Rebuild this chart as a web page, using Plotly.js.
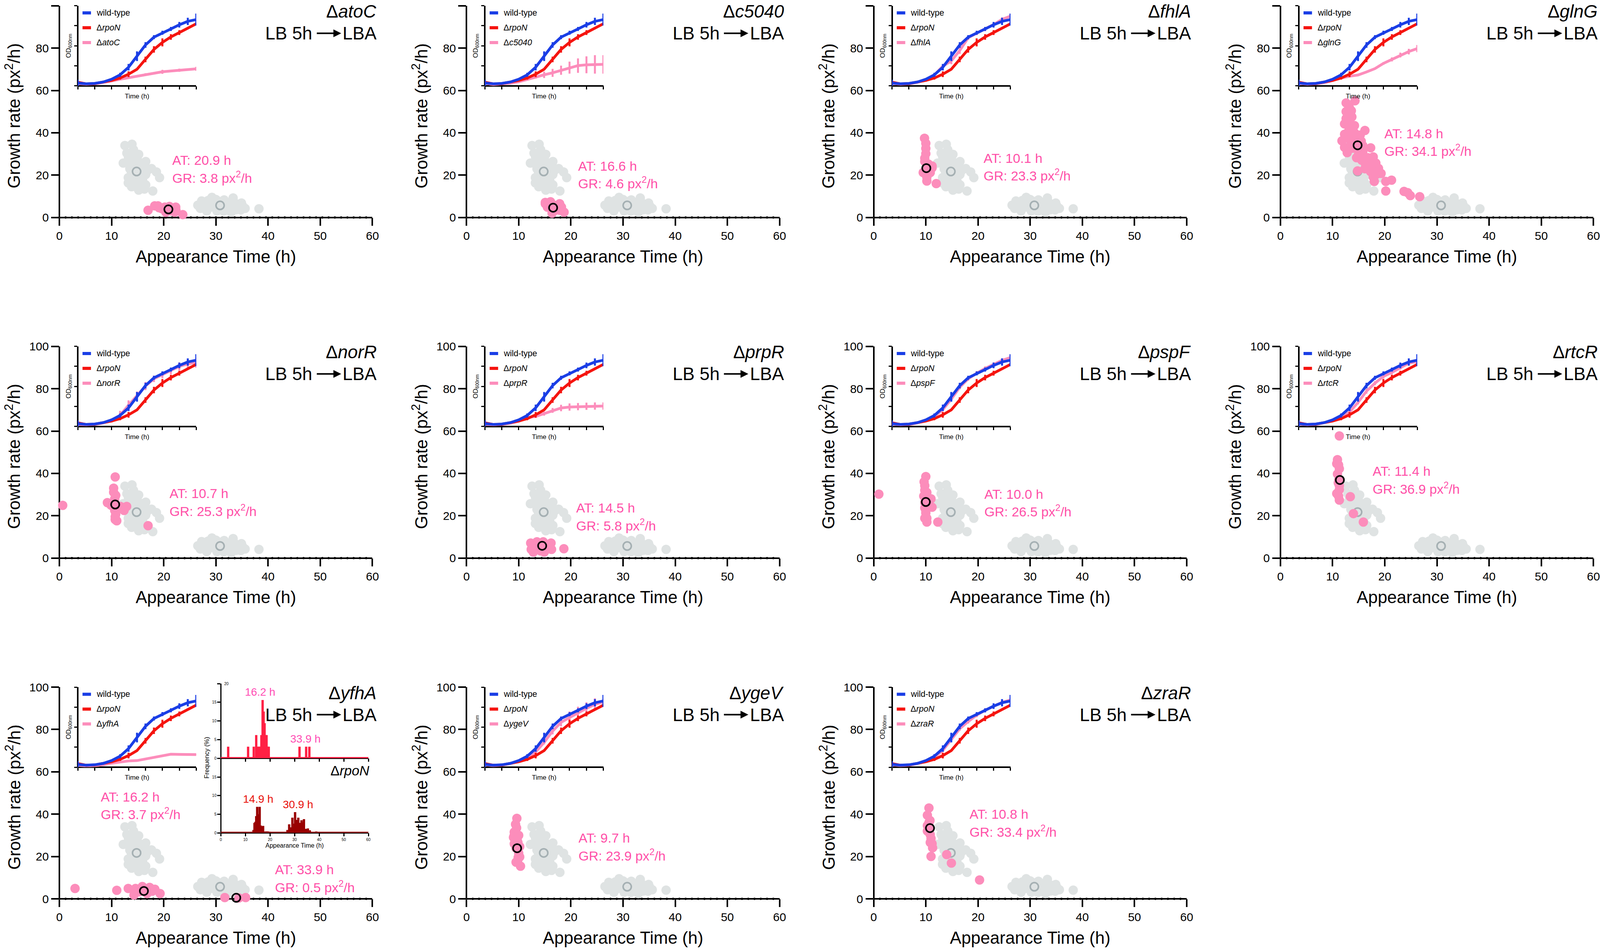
<!DOCTYPE html>
<html>
<head>
<meta charset="utf-8">
<script src="https://cdn.plot.ly/plotly-3.0.1.min.js"></script>
<style>html,body{margin:0;background:#fff;overflow:hidden}</style>
</head>
<body>
<div id="plot"></div>
<script>
// reference is 4150 wide, the browser window may be clamped narrower, so positions stay as fractions of the reference
const W = 4150, H = 2432;
const FONT = '"Liberation Sans", Arial, sans-serif';
const BLUE = '#1a3ee6', RED = '#f5140f', PINK = '#fc8dbb', GREY = '#dfe3e3', RING = '#a5b0b3', TXT = '#ff4fa8';

// small dots sitting on the x axis
const axisDots = [1.2,2.4,3.6,4.8,6,7.2,8.4,9.6,10.8,12,13.2,14.4,15.6,16.8,18,19.2,20.4,21.6,22.8,24,25.2,26.4,27.6,28.8,30,31.2,32.4,33.6,34.8,36,37.2,38.4,39.6,40.8,42,43.2,44.4,45.6,46.8,48,49.2,50.4,51.6,52.8,54,55.2,56.4,57.6,58.8];

// rpoN reference cloud, same in every panel
const greyX = [12.56,13.92,14.21,12.93,15.2,13.23,12.24,16.55,14.33,13.47,15.2,17.66,18.6,19.2,17.9,15.2,13.84,16.3,16.55,13.2,13.2,16.55,14.83,14.83,15.94,13.72,14.46,14.2,15.7,15.94,13.97,14,15,13.5,15,16.2,16.8,14.5,15.5,14.5,15.5,16,14,13.6,
  29.24,27.27,33.3,26.53,28,27.02,28.25,30.2,32.93,34.78,35.6,34.9,33.9,31.58,30.47,29.48,30.7,32.2,33.9,29,38.25,31.45,28.5,30,31,33,33,35.1,28.5,31.5,34,30,32.5,27.5,29.3,32.4];
const greyY = [34,34.6,32,30.4,29.8,28.6,25.7,26.4,27.7,25.2,25.2,23.1,21.5,18.8,12.5,12.9,14.5,13.4,15.4,16.3,18.8,20.3,17.2,21.5,22.8,22.1,24,14.8,15.4,18.5,19.7,26,27,23,23,24.5,22,19,20,15,17,17,31,27,
  9.5,7.8,9.2,5.8,6.2,4.3,3.1,3.1,2.5,3.6,4.3,6.8,6.5,8.3,7.7,7.4,4.9,4.9,3.7,4.9,4.1,3.1,8,6,6.5,7.5,5.5,5.5,5,3,5,8.5,7,6,6.5,3.5];
const greyMedX = [14.8, 30.8];
const greyMedY = [21.7, 5.7];

// mutant colonies
const atoCx = [17,18.27,19.1,20.1,21.1,22.3,22.1,20.4,23.65,22.34,21.35,18.9,20.2,19.6,21.5];
const atoCy = [3.4,5.5,4.6,3.7,5.2,4.9,2.5,2.5,1.35,3.4,3.1,5.5,4.9,4.2,4.2];
const c5040x = [15.1,16.6,17.85,15.5,18.2,16.8,18.7,16.35,15.1,16.1,17.85,16.5,16,17.2,17.2,16.4];
const c5040y = [6.5,6,6.5,4.9,4.9,3.1,2.5,-0.1,7.1,7.4,3.4,4.6,5.5,5.5,4.2,2];
const fhlAx = [9.75,10,10,10,9.8,10.5,11.2,10,10.85,9.5,10.2,10.2,12,9.8,11.2,10.2,10.1];
const fhlAy = [37.4,35,32.6,30.1,28,25.2,23.4,22.8,21.2,21.2,19,17.2,16,26.4,24.3,23,20];
const glnGx = [14.3,12.6,12.6,13.6,12.6,13.7,12.3,14.2,13.1,16.2,12.3,15.3,11.8,13.3,14.8,12.3,13.8,15.8,17.3,12.8,14.6,15.8,17.8,16.3,14.8,18.8,17.3,19.3,18,17.8,20.2,21.3,20.2,23.7,24.4,24.9,26.7,18.3,16.8,13.8,13.2,12.9,13,13.3,14.2,14.5,13.6,14.5,15.5,15,16.5,17,17.5,18.5,16.2,15.6];
const glnGy = [55.1,54.1,50,50.4,46.7,47.5,44.2,43.4,40.9,41.1,39.3,38.9,36.2,36.8,37.6,33.1,32.7,33.9,32.9,30.6,28.2,31.1,28.6,25.3,22,23.2,21.6,20.8,17,19.1,17,17.6,12.5,12.3,11.7,10.3,9.8,25.7,28.2,39.3,52,48.5,44.5,42.5,40,36,35,33,36,30,28,24.5,25,20.5,23,27];
const norRx = [0.64,10.7,10.4,10.4,10.8,9.2,10.6,12.9,12.4,10.6,10.8,10.7,11,17,11.7,9.9,10.6,11,10.7];
const norRy = [24.9,38.3,33,31.1,29.6,26.2,28,24.4,22.5,22.5,20.7,18.2,17.6,15.3,24.4,25,26,23,19.5];
const prpRx = [12.3,13.5,14.7,16.2,12.4,14.2,16.3,18.66,13.1,15.6,12.8,14.9,14.3,15.2,13.5];
const prpRy = [7.1,7.7,7.7,7.1,4.1,3.4,4.1,4.4,5.3,5.3,2.8,2.8,5.8,5.8,6];
const pspFx = [1,10,9.67,9.8,9.8,9.6,11,9.8,11.2,9.8,10,10.2,10.2,12.3,9.8,10.2,10.4,10];
const pspFy = [30.2,38.5,36,34.2,32,29.3,28,26.2,24,23.7,21.3,18.8,17,17,18.8,31,26.5,22.5];
const rtcRx = [11.3,10.94,11.15,11.3,10.94,11.3,11.3,11.15,11.3,13.4,14,15.9,10.8,10.8,11.2,11.1];
const rtcRy = [57.7,46.5,44,42.2,39.7,34.2,32.3,29.3,27.4,29,21,17,30.5,44.6,37,35.5];
const yfhAx = [3,11,13.2,14.3,14.6,15.9,17.3,18.3,19.3,19,16.8,15.3,31.7,34.4,35.7,16.5,17.8,14.8];
const yfhAy = [4.9,4,4.9,1.8,4.9,5.8,5.4,4.5,2.5,-0.2,2.5,3.3,0.6,0.4,0.6,4.2,3.6,3.2];
const ygeVx = [9.65,9.4,9.15,9.1,9,10,9.86,10.2,10,9.9,9.5,10.35,9.15,10.2,9.6,9.7,9.5,9.8];
const ygeVy = [38,35.2,31.5,29.6,29,30,26.6,24.7,21.6,19.5,17.3,15.4,26,19.8,33.5,28,24,18];
const zraRx = [10.6,10.3,10.8,10.3,10.3,10.85,10.85,11.3,11,14,14.9,20.3,10.6,10.7,11,11.2];
const zraRy = [42.9,39.5,37,34.6,32,30.3,26.6,24.1,20,20.9,16.9,8.9,36,33.5,28.5,26];

// growth curves, one reading every 2 h
const timeH = [0,2,4,6,8,10,12,14,16,18,20,22,24,26,28];
const wtOD = [.07,.05,.06,.095,.165,.275,.465,.74,1.02,1.215,1.325,1.42,1.525,1.61,1.655];
const wtErr = [.08,.01,.01,.01,.02,.05,.08,.12,.07,.05,.05,.05,.07,.09,.15];
const rpoNOD = [.09,.05,.055,.09,.135,.195,.29,.415,.66,.91,1.085,1.22,1.33,1.445,1.55];
const rpoNErr = [.03,.01,.01,.01,.01,.04,.07,.01,.07,.08,.1,.07,.06,.02,.03];
const atoCod = [.055,.04,.05,.08,.12,.165,.2,.24,.285,.315,.35,.37,.39,.41,.425];
const atoCerr = [.03,.01,.01,.01,.01,.01,.01,.01,.03,.01,.05,.01,.04,.01,.05];
const c5040od = [.065,.03,.05,.065,.1,.16,.23,.275,.325,.39,.455,.505,.525,.535,.535];
const c5040err = [.03,.01,.01,.01,.01,.03,.05,.08,.1,.115,.15,.18,.21,.23,.23];
const fhlAod = [.06,.04,.05,.09,.15,.27,.49,.62,.88,1.2,1.315,1.415,1.53,1.66,1.74];
const fhlAerr = [.03,.01,.01,.01,.02,.03,.05,.08,.08,.05,.05,.05,.05,.05,.06];
const glnGod = [.06,.04,.05,.08,.13,.195,.24,.27,.345,.43,.56,.66,.77,.855,.93];
const glnGerr = [.03,.01,.01,.01,.01,.01,.02,.01,.02,.02,.03,.05,.06,.07,.09];
const norRod = [.05,.04,.05,.09,.15,.28,.53,.77,1.01,1.19,1.29,1.385,1.5,1.565,1.595];
const norRerr = [.05,.01,.01,.01,.05,.11,.12,.1,.1,.08,.08,.08,.1,.1,.13];
const prpRod = [.05,.04,.05,.08,.13,.22,.25,.32,.4,.46,.485,.495,.505,.51,.51];
const prpRerr = [.03,.01,.01,.01,.01,.02,.03,.05,.06,.08,.09,.09,.09,.09,.09];
const pspFod = [.06,.04,.05,.09,.15,.25,.42,.68,.98,1.19,1.33,1.45,1.55,1.65,1.72];
const pspFerr = [.03,.01,.01,.01,.02,.03,.04,.05,.05,.05,.05,.05,.05,.05,.06];
const rtcRod = [.06,.04,.05,.09,.14,.22,.36,.6,.88,1.08,1.25,1.35,1.47,1.58,1.62];
const rtcRerr = [.03,.01,.01,.01,.02,.03,.04,.05,.06,.05,.05,.05,.05,.05,.06];
const yfhAod = [.05,.03,.04,.06,.1,.13,.155,.165,.205,.24,.29,.325,.32,.315,.315];
const yfhAerr = [.02,.01,.01,.01,.01,.01,.01,.01,.01,.01,.01,.01,.01,.01,.02];
const ygeVod = [.06,.04,.05,.09,.15,.24,.38,.62,.9,1.12,1.24,1.36,1.47,1.57,1.63];
const ygeVerr = [.03,.01,.01,.01,.02,.03,.04,.05,.08,.1,.15,.15,.15,.15,.08];
const zraRod = [.06,.04,.05,.09,.15,.25,.42,.68,.96,1.14,1.3,1.42,1.52,1.62,1.68];
const zraRerr = [.03,.01,.01,.01,.02,.03,.04,.05,.05,.05,.05,.05,.05,.05,.06];

// yfhA appearance time histograms
const histYfhAx = [3,11.1,13.4,14.4,15,15.5,16,16.5,17,17.4,17.8,18.2,18.6,19.1,19.5,32,34.7,36];
const histYfhAy = [3.1,3.1,3.1,6.2,3.1,3.1,3.1,6.2,15.6,12.5,9.4,6.2,6.2,3.1,3.1,3.1,3.1,3.1];
const histRpoNx = [12.9,13.3,13.7,14.1,14.4,14.8,15.1,15.4,15.8,16.2,16.7,17.2,18.1,18.7,19.2,19.9,27.1,27.8,28.3,29.1,29.7,30.2,31,31.5,32.2,32.8,33.3,33.8,34.6,35.4,36.2,38.8];
const histRpoNy = [.3,.8,2.7,3,4.5,7,5,5,7,2,1.7,1.9,.4,.4,.4,.3,.8,2.3,1.5,4.1,2.5,5.6,3.5,4.1,2.7,3.4,2.9,3.7,1.1,1.2,.7,.4];

const colX = [154, 1210, 2266, 3321];
const rowY = [14.7, 886.7, 1759];

const panels = [
  {gene: 'atoC', col: 0, row: 0, x: atoCx, y: atoCy, od: atoCod, err: atoCerr, medX: [20.9], medY: [3.8], labels: [[21.5, 27, '20.9', '3.8']]},
  {gene: 'c5040', col: 1, row: 0, x: c5040x, y: c5040y, od: c5040od, err: c5040err, medX: [16.6], medY: [4.6], labels: [[21.25, 24.3, '16.6', '4.6']]},
  {gene: 'fhlA', col: 2, row: 0, x: fhlAx, y: fhlAy, od: fhlAod, err: fhlAerr, medX: [10.1], medY: [23.3], labels: [[20.9, 28, '10.1', '23.3']]},
  {gene: 'glnG', col: 3, row: 0, x: glnGx, y: glnGy, od: glnGod, err: glnGerr, medX: [14.8], medY: [34.1], labels: [[19.75, 39.7, '14.8', '34.1']]},
  {gene: 'norR', col: 0, row: 1, x: norRx, y: norRy, od: norRod, err: norRerr, medX: [10.7], medY: [25.3], labels: [[21, 30.5, '10.7', '25.3']]},
  {gene: 'prpR', col: 1, row: 1, x: prpRx, y: prpRy, od: prpRod, err: prpRerr, medX: [14.5], medY: [5.8], labels: [[20.9, 23.7, '14.5', '5.8']]},
  {gene: 'pspF', col: 2, row: 1, x: pspFx, y: pspFy, od: pspFod, err: pspFerr, medX: [10], medY: [26.5], labels: [[21.1, 30.2, '10.0', '26.5']]},
  {gene: 'rtcR', col: 3, row: 1, x: rtcRx, y: rtcRy, od: rtcRod, err: rtcRerr, medX: [11.4], medY: [36.9], labels: [[17.5, 41, '11.4', '36.9']]},
  {gene: 'yfhA', col: 0, row: 2, x: yfhAx, y: yfhAy, od: yfhAod, err: yfhAerr, medX: [16.2, 33.9], medY: [3.7, 0.5], labels: [[7.8, 48.2, '16.2', '3.7'], [41.2, 13.8, '33.9', '0.5']]},
  {gene: 'ygeV', col: 1, row: 2, x: ygeVx, y: ygeVy, od: ygeVod, err: ygeVerr, medX: [9.7], medY: [23.9], labels: [[21.3, 28.7, '9.7', '23.9']]},
  {gene: 'zraR', col: 2, row: 2, x: zraRx, y: zraRy, od: zraRod, err: zraRerr, medX: [10.8], medY: [33.4], labels: [[18.2, 40, '10.8', '33.4']]}
];

const traces = [], annotations = [], shapes = [];
const layout = {
  width: Math.min(W, window.innerWidth), height: H,
  margin: {l: 0, r: 0, t: 0, b: 0},
  paper_bgcolor: 'white', plot_bgcolor: 'rgba(0,0,0,0)',
  showlegend: false, barmode: 'overlay',
  font: {family: FONT, color: 'black'}
};

const px = v => v / W;
const py = v => 1 - v / H;
let axisNo = 0;

function note(text, x, y, size, color, anchor, extra) {
  annotations.push(Object.assign({
    text: text, x: px(x), y: py(y), xref: 'paper', yref: 'paper',
    xanchor: anchor, yanchor: 'middle', showarrow: false,
    font: {family: FONT, size: size, color: color}
  }, extra || {}));
}

// one x/y axis pair placed by pixel box, lines drawn as zerolines so they sit exactly on 0
function addAxes(left, right, top, bottom, xOpts, yOpts, lw) {
  axisNo += 1;
  const n = axisNo === 1 ? '' : axisNo;
  layout['xaxis' + n] = Object.assign({
    domain: [px(left), px(right)], anchor: 'y' + n, fixedrange: true,
    showgrid: false, showline: false, ticks: 'outside', tickcolor: 'black', layer: 'below traces',
    zeroline: true, zerolinecolor: 'black', zerolinewidth: lw
  }, xOpts);
  layout['yaxis' + n] = Object.assign({
    domain: [py(bottom), py(top)], anchor: 'x' + n, fixedrange: true,
    showgrid: false, showline: false, ticks: 'outside', tickcolor: 'black', layer: 'below traces',
    zeroline: true, zerolinecolor: 'black', zerolinewidth: lw
  }, yOpts);
  return {x: 'x' + n, y: 'y' + n};
}

function addMain(p) {
  const x0 = colX[p.col], y0 = rowY[p.row];
  const ax = addAxes(x0, x0 + 812, y0, y0 + 542, {
    range: [0, 60], tickmode: 'array', tickvals: [0, 10, 20, 30, 40, 50, 60],
    ticklen: 20, tickwidth: 4, tickfont: {size: 30},
    title: {text: 'Appearance Time (h)', font: {size: 44}, standoff: 22}
  }, {
    range: [0, 100], tickmode: 'array', tickvals: [0, 20, 40, 60, 80, 100],
    ticklen: 20, tickwidth: 4, tickfont: {size: 30}
  }, 4);
  note('Growth rate (px<sup>2</sup>/h)', x0 - 121, y0 + 282, 44, 'black', 'center', {textangle: -90});
  const common = {type: 'scatter', mode: 'markers', xaxis: ax.x, yaxis: ax.y, cliponaxis: false, hoverinfo: 'skip'};
  traces.push(Object.assign({}, common, {x: axisDots, y: axisDots.map(() => 0), marker: {size: 6, color: 'black'}}));
  traces.push(Object.assign({}, common, {x: greyX, y: greyY, marker: {size: 24, color: GREY}}));
  traces.push(Object.assign({}, common, {x: greyMedX, y: greyMedY, marker: {size: 21, color: 'rgba(0,0,0,0)', line: {color: RING, width: 4}}}));
  traces.push(Object.assign({}, common, {x: p.x, y: p.y, marker: {size: 24, color: PINK}}));
  traces.push(Object.assign({}, common, {x: p.medX, y: p.medY, marker: {size: 21, color: 'rgba(0,0,0,0)', line: {color: 'black', width: 4}}}));
  p.labels.forEach(l => {
    [['AT: ' + l[2] + ' h', 0], ['GR: ' + l[3] + ' px<sup>2</sup>/h', 7.9]].forEach(t => {
      annotations.push({text: t[0], x: l[0], y: l[1] - t[1], xref: ax.x, yref: ax.y, xanchor: 'left', yanchor: 'middle',
        showarrow: false, font: {family: FONT, size: 34, color: TXT}});
    });
  });
  // top right header, right aligned so the last column stays inside the window
  note('Δ<i>' + p.gene + '</i>', x0 + 825, y0 + 14.5, 46, 'black', 'right');
  note('LB 5h', x0 + 658, y0 + 70.5, 46, 'black', 'right');
  note('LBA', x0 + 825, y0 + 70.5, 46, 'black', 'right');
  annotations.push({text: '', x: px(x0 + 731), y: py(y0 + 70.5), xref: 'paper', yref: 'paper',
    ax: -64, ay: 0, axref: 'pixel', ayref: 'pixel', showarrow: true, arrowhead: 2, arrowsize: 1, arrowwidth: 4, arrowcolor: 'black'});
}

function addInset(p) {
  const x0 = colX[p.col], y0 = rowY[p.row];
  const ax = addAxes(x0 + 47.7, x0 + 355, y0, y0 + 205, {
    range: [0, 28], tickmode: 'array', tickvals: [0, 4, 8, 12, 16, 20, 24, 28],
    ticklen: 8, tickwidth: 3, showticklabels: false,
    title: {text: 'Time (h)', font: {size: 17}, standoff: 12}
  }, {
    range: [0, 2], tickmode: 'array', tickvals: [0, .5, 1, 1.5, 2],
    ticklen: 8, tickwidth: 3, showticklabels: false,
    title: {text: 'OD<sub>600nm</sub>', font: {size: 17}, standoff: 4}
  }, 4);
  [[p.od, p.err, PINK], [rpoNOD, rpoNErr, RED], [wtOD, wtErr, BLUE]].forEach(s => {
    traces.push({type: 'scatter', mode: 'lines', x: timeH, y: s[0], xaxis: ax.x, yaxis: ax.y, cliponaxis: false, hoverinfo: 'skip',
      line: {color: s[2], width: 7},
      error_y: {type: 'data', array: s[1], visible: true, thickness: 5, width: 0, color: s[2]}});
  });
  // legend of the inset
  [['wild-type', BLUE, 18.3], ['Δ<i>rpoN</i>', RED, 56.3], ['Δ<i>' + p.gene + '</i>', PINK, 94.3]].forEach(k => {
    shapes.push({type: 'line', xref: 'paper', yref: 'paper', x0: px(x0 + 60), x1: px(x0 + 82), y0: py(y0 + k[2]), y1: py(y0 + k[2]),
      line: {color: k[1], width: 8}});
    note(k[0], x0 + 94, y0 + k[2], 21.5, 'black', 'left');
  });
}

function addHistograms() {
  const left = 572.7, right = 955.5;
  const top = addAxes(left, right, 1750, 1941, {
    range: [0, 60], tickmode: 'array', tickvals: [0, 10, 20, 30, 40, 50, 60], ticklen: 8, tickwidth: 3, showticklabels: false
  }, {
    range: [0, 20], tickmode: 'array', tickvals: [0, 5, 10, 15, 20], ticktext: ['0', '5', '10', '15', ''],
    ticklen: 8, tickwidth: 3, tickfont: {size: 10}
  }, 3);
  const low = addAxes(left, right, 1941.5, 2132.3, {
    range: [0, 60], tickmode: 'array', tickvals: [0, 10, 20, 30, 40, 50, 60], ticklen: 8, tickwidth: 3, tickfont: {size: 10},
    title: {text: 'Appearance Time (h)', font: {size: 16}, standoff: 4}
  }, {
    range: [0, 20], tickmode: 'array', tickvals: [0, 5, 10, 15], ticklen: 8, tickwidth: 3, tickfont: {size: 10}
  }, 3);
  [[top, histYfhAx, histYfhAy, '#ff2044'], [low, histRpoNx, histRpoNy, '#990000']].forEach(h => {
    traces.push({type: 'bar', x: h[1], y: h[2], width: 0.95, xaxis: h[0].x, yaxis: h[0].y, marker: {color: h[3]}, hoverinfo: 'skip'});
    traces.push({type: 'scatter', mode: 'lines', x: [0, 60], y: [0.15, 0.15], xaxis: h[0].x, yaxis: h[0].y, line: {color: h[3], width: 3}, hoverinfo: 'skip'});
  });
  note('20', 580, 1750, 10, 'black', 'left');
  note('Frequency (%)', 536, 1940, 16.3, 'black', 'center', {textangle: -90});
  note('16.2 h', 675, 1772, 28, '#ff4db4', 'center');
  note('33.9 h', 792, 1891, 28, '#ff4db4', 'center');
  note('14.9 h', 670, 2045, 28, '#e8100a', 'center');
  note('30.9 h', 773, 2059, 28, '#e8100a', 'center');
  note('Δ<i>rpoN</i>', 961, 1972, 35, 'black', 'right');
}

panels.forEach(addMain);
panels.forEach(addInset);
addHistograms();

layout.annotations = annotations;
layout.shapes = shapes;

Plotly.newPlot('plot', traces, layout, {displayModeBar: false, responsive: false});
</script>
</body>
</html>
